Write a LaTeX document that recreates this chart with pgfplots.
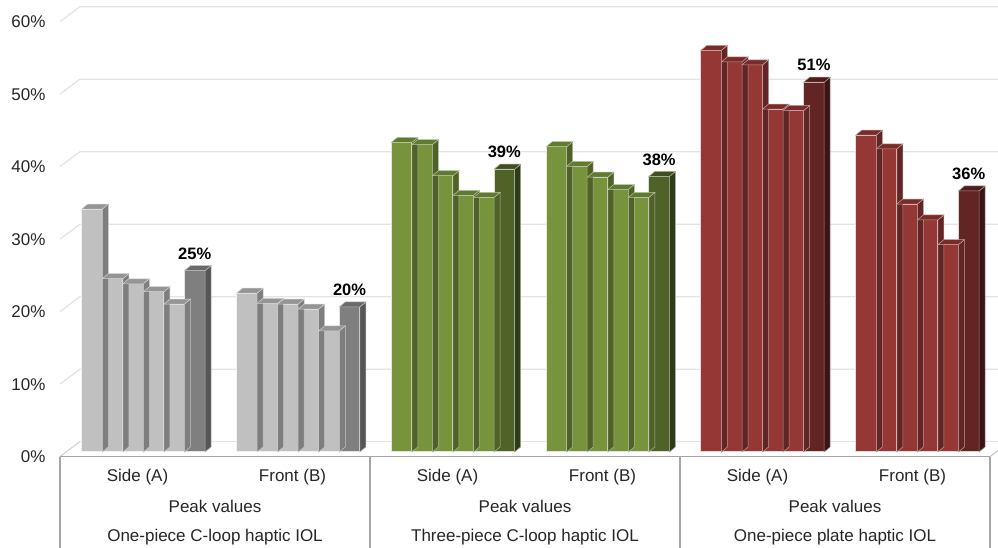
\documentclass[border=0pt]{standalone}
\usepackage{fontspec}
\setmainfont{Liberation Sans}
\usepackage{pgfplots}
\usepackage{pgfplotstable}
\pgfplotsset{compat=1.18}

% ---- colours -------------------------------------------------------------
\definecolor{gryF}{HTML}{C0C0C0}\definecolor{gryT}{HTML}{959595}\definecolor{gryS}{HTML}{7E7E7E}
\definecolor{gryDF}{HTML}{7F7F7F}\definecolor{gryDT}{HTML}{6A6A6A}\definecolor{gryDS}{HTML}{565656}
\definecolor{grnF}{HTML}{77933C}\definecolor{grnT}{HTML}{617A2E}\definecolor{grnS}{HTML}{4F6228}
\definecolor{grnDF}{HTML}{4F6228}\definecolor{grnDT}{HTML}{3F4F1F}\definecolor{grnDS}{HTML}{2F3B16}
\definecolor{redF}{HTML}{953735}\definecolor{redT}{HTML}{7A2B29}\definecolor{redS}{HTML}{632523}
\definecolor{redDF}{HTML}{632523}\definecolor{redDT}{HTML}{4F1C1B}\definecolor{redDS}{HTML}{3B1413}
\definecolor{gridc}{HTML}{E4E4E4}
\definecolor{edgec}{HTML}{A6A6A6}

% ---- data: bar centre (x) and peak value in percent (v) -------------------
\pgfplotstableread{
x      v
91.98  33.5
112.53 23.9
133.08 23.2
153.63 22.1
174.18 20.4
194.73 25
}\cloopSide
\pgfplotstableread{
x      v
246.78 21.9
267.33 20.5
287.88 20.4
308.43 19.7
328.98 16.7
349.53 20
}\cloopFront
\pgfplotstableread{
x      v
401.58 42.7
422.13 42.4
442.68 38.1
463.23 35.4
483.78 35.1
504.33 39
}\threeSide
\pgfplotstableread{
x      v
556.38 42.1
576.93 39.4
597.48 37.9
618.03 36.2
638.58 35.1
659.13 38
}\threeFront
\pgfplotstableread{
x      v
711.18 55.4
731.73 53.8
752.28 53.4
772.83 47.3
793.38 47.1
813.93 51
}\plateSide
\pgfplotstableread{
x      v
865.98 43.7
886.53 41.8
907.08 34.2
927.63 32.0
948.18 28.6
968.73 36
}\plateFront

% ---- 3-D look: depth of each bar ------------------------------------------
\def\barHW{10.275bp}
\def\barDX{6bp}
\def\barDY{5bp}
\newcommand\lbl{\fontsize{17bp}{20bp}\selectfont}

\pgfplotsset{
  faces/.style n args={2}{% #1 top face, #2 side face
    scatter, only marks, mark=*, mark size=0pt,
    mark options={draw=none, fill=none},
    visualization depends on={rawy \as \barval},
    scatter/@pre marker code/.code={%
      \pgfmathsetlengthmacro\barH{\barval*7.25bp}%
      \filldraw[fill=#2, draw=white!55!#2, line width=0.5bp, fill opacity=1, draw opacity=1]
        (\barHW,0pt) -- (\barHW+\barDX,\barDY) -- (\barHW+\barDX,\barDY-\barH)
        -- (\barHW,-\barH) -- cycle;
      \filldraw[fill=#1, draw=white!55!#1, line width=0.5bp, fill opacity=1, draw opacity=1]
        (-\barHW,0pt) -- (-\barHW+\barDX,\barDY) -- (\barHW+\barDX,\barDY) -- (\barHW,0pt) -- cycle;
    },
    scatter/@post marker code/.code={},
  },
  front/.style={ybar, bar width=20.55, bar shift=0pt, fill=#1,
    draw=white!80!#1, line width=1bp},
}

% one group: table, light front/top/side, dark front/top/side
\newcommand\bargroup[7]{%
  \addplot[faces={#3}{#4}, skip coords between index={5}{6}] table[x=x,y=v]{#1};
  \addplot[faces={#6}{#7}, skip coords between index={0}{5}] table[x=x,y=v]{#1};
  \addplot[front=#2, skip coords between index={5}{6}] table[x=x,y=v]{#1};
  \addplot[front=#5, skip coords between index={0}{5},
    nodes near coords={\pgfmathprintnumber[assume math mode=true,fixed,precision=0]{\pgfplotspointmeta}\%},
    nodes near coords style={anchor=center, yshift=17bp, text=black,
      font=\bfseries\fontsize{16.5bp}{18bp}\selectfont}] table[x=x,y=v]{#1};
}

\begin{document}
\begin{tikzpicture}
\begin{axis}[
  x=1bp, y=7.25bp,
  xmin=0, xmax=998, ymin=-13.24, ymax=62.34,
  clip=false,
  axis line style={draw=none},
  major tick length=0pt,
  xtick=\empty,
  ytick={0,10,...,60},
  yticklabels={0\%,10\%,20\%,30\%,40\%,50\%,60\%},
  yticklabel style={anchor=east, inner sep=0pt, xshift=45.7bp, yshift=-4.7bp,
    font=\lbl, text=black!85},
]
% back wall grid and left wall
\pgfplotsinvokeforeach{0,10,...,60}{
  \draw[gridc, line width=1.3bp] ([yshift=-4.7bp]axis cs:60,#1)
    -- ([yshift=10.3bp]axis cs:80,#1) -- ([yshift=10.3bp]axis cs:998,#1);
}
% floor
\fill[white] ([yshift=-4.7bp]axis cs:60,0) -- ([yshift=10.3bp]axis cs:80,0)
  -- ([yshift=10.3bp]axis cs:998,0) -- ([yshift=1.3bp]axis cs:998,0)
  -- ([yshift=-4.7bp]axis cs:990,0) -- cycle;
\draw[gridc, line width=1.3bp] ([yshift=10.3bp]axis cs:80,0) -- ([yshift=10.3bp]axis cs:998,0);
\draw[gridc!70!edgec, line width=1bp] ([yshift=-4.7bp]axis cs:60,0) -- ([yshift=10.3bp]axis cs:80,0);
\draw[edgec!70, line width=1bp] ([yshift=-4.7bp]axis cs:990,0) -- ([yshift=1.3bp]axis cs:998,0);

% bars
\bargroup{\cloopSide}{gryF}{gryT}{gryS}{gryDF}{gryDT}{gryDS}
\bargroup{\cloopFront}{gryF}{gryT}{gryS}{gryDF}{gryDT}{gryDS}
\bargroup{\threeSide}{grnF}{grnT}{grnS}{grnDF}{grnDT}{grnDS}
\bargroup{\threeFront}{grnF}{grnT}{grnS}{grnDF}{grnDT}{grnDS}
\bargroup{\plateSide}{redF}{redT}{redS}{redDF}{redDT}{redDS}
\bargroup{\plateFront}{redF}{redT}{redS}{redDF}{redDT}{redDS}

% front edge of the floor and category table
\draw[edgec, line width=1.6bp] ([yshift=-4.7bp]axis cs:60,0) -- ([yshift=-4.7bp]axis cs:990,0);
\pgfplotsinvokeforeach{60,370,680,990}{
  \draw[edgec, line width=1.2bp] ([yshift=-4.7bp]axis cs:#1,0) -- (axis cs:#1,-13.24);
}
\pgfplotsinvokeforeach{137.5,447.5,757.5}{
  \node[font=\lbl, text=black!85] at (axis cs:#1,-3.41) {Side (A)};
}
\pgfplotsinvokeforeach{292.5,602.5,912.5}{
  \node[font=\lbl, text=black!85] at (axis cs:#1,-3.41) {Front (B)};
}
\pgfplotsinvokeforeach{215,525,835}{
  \node[font=\lbl, text=black!85] at (axis cs:#1,-7.54) {Peak values};
}
\node[font=\lbl, text=black!85] at (axis cs:215,-11.68) {One-piece C-loop haptic IOL};
\node[font=\lbl, text=black!85] at (axis cs:525,-11.68) {Three-piece C-loop haptic IOL};
\node[font=\lbl, text=black!85] at (axis cs:835,-11.68) {One-piece plate haptic IOL};
\end{axis}
\pgfresetboundingbox
\path[use as bounding box] (current axis.south west) rectangle (current axis.north east);
\end{tikzpicture}
\end{document}
